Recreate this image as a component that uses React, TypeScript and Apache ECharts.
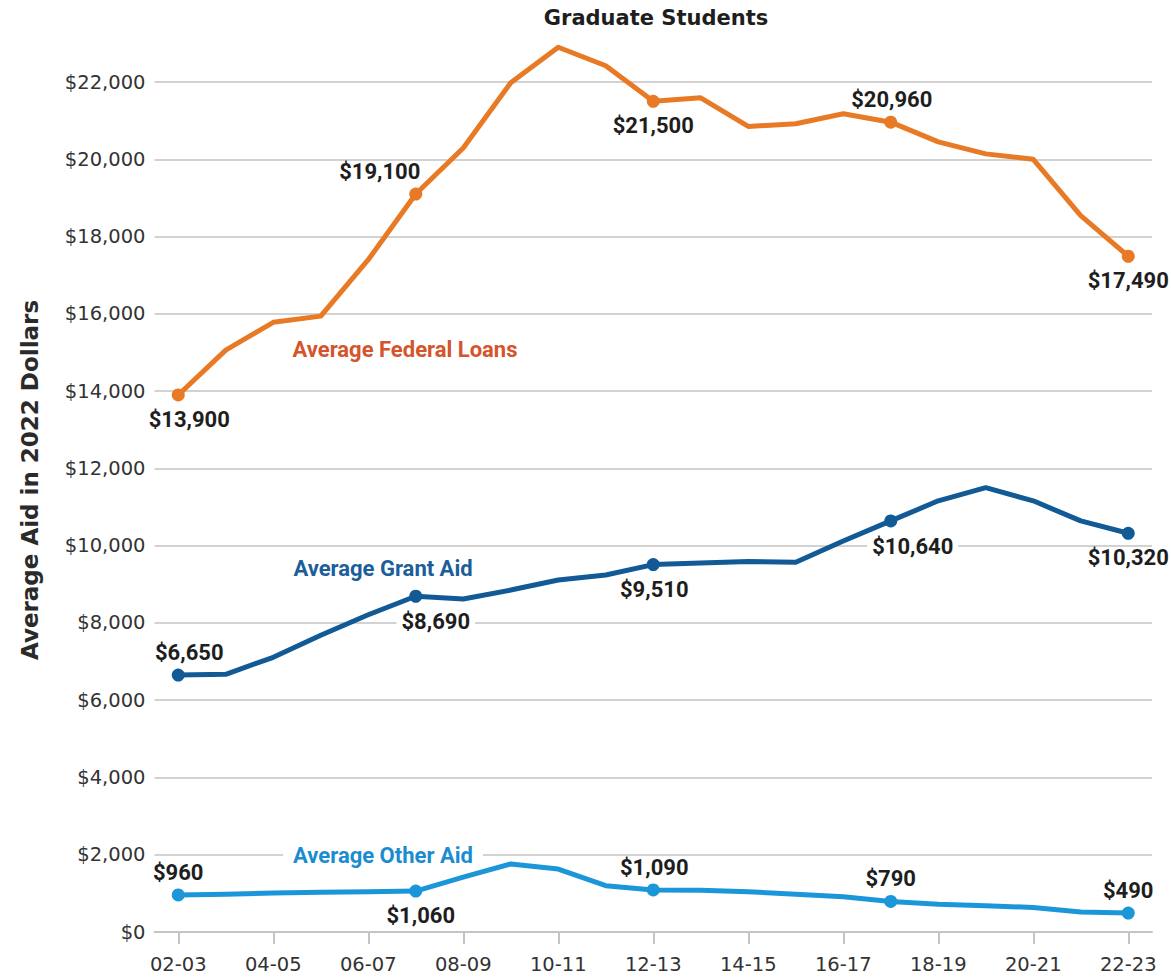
import React, { useEffect, useRef } from "react";
import * as echarts from "echarts";

const categories = [
  "02-03", "03-04", "04-05", "05-06", "06-07", "07-08", "08-09", "09-10", "10-11", "11-12",
  "12-13", "13-14", "14-15", "15-16", "16-17", "17-18", "18-19", "19-20", "20-21", "21-22", "22-23",
];

const federalLoans = [
  13900, 15060, 15780, 15940, 17400, 19100, 20290, 21980, 22900, 22420,
  21500, 21590, 20850, 20920, 21180, 20960, 20450, 20140, 20000, 18540, 17490,
];

const grantAid = [
  6650, 6670, 7110, 7680, 8210, 8690, 8620, 8850, 9110, 9240,
  9510, 9550, 9590, 9570, 10120, 10640, 11160, 11500, 11160, 10640, 10320,
];

const otherAid = [
  960, 980, 1010, 1030, 1040, 1060, 1420, 1760, 1630, 1200,
  1090, 1080, 1040, 980, 910, 790, 720, 680, 635, 520, 490,
];

const yTicks = { min: 0, max: 22000, interval: 2000 };

const markedIndices = [0, 5, 10, 15, 20];

type LabelCfg = { pos: "top" | "bottom"; dx: number; bg?: boolean };
const federalLabels: Record<number, LabelCfg> = {
  0: { pos: "bottom", dx: 11 },
  5: { pos: "top", dx: -36 },
  10: { pos: "bottom", dx: 0 },
  15: { pos: "top", dx: 1 },
  20: { pos: "bottom", dx: 0 },
};
const grantLabels: Record<number, LabelCfg> = {
  0: { pos: "top", dx: 11 },
  5: { pos: "bottom", dx: 20, bg: true },
  10: { pos: "bottom", dx: 1 },
  15: { pos: "bottom", dx: 22, bg: true },
  20: { pos: "bottom", dx: 0 },
};
const otherLabels: Record<number, LabelCfg> = {
  0: { pos: "top", dx: 0 },
  5: { pos: "bottom", dx: 5 },
  10: { pos: "top", dx: 1 },
  15: { pos: "top", dx: 0 },
  20: { pos: "top", dx: 0 },
};

const COLORS = {
  federal: "#E87A25",
  federalText: "#D5542B",
  grant: "#125A95",
  grantText: "#1B5E9A",
  other: "#1B97D9",
  otherText: "#1A8CD0",
  grid: "#D2D2D2",
  axis: "#C4C4C4",
  axisText: "#333333",
  label: "#1E1E1E",
};

const fmt = (v: number) => "$" + v.toLocaleString("en-US");

function buildSeries(name: string, values: number[], color: string, labels: Record<number, LabelCfg>) {
  return {
    type: "line",
    name,
    clip: false,
    showSymbol: true,
    showAllSymbol: true,
    symbolSize: 13,
    lineStyle: { color, width: 5, join: "round" },
    itemStyle: { color },
    emphasis: { disabled: true },
    label: {
      show: false,
      fontFamily: "Roboto",
      fontWeight: "bold",
      fontSize: 22,
      color: COLORS.label,
      formatter: (p: any) => fmt(p.value),
    },
    data: values.map((v, i) => {
      const marked = markedIndices.includes(i);
      const cfg = labels[i];
      return {
        value: v,
        symbol: marked ? "circle" : "none",
        label: cfg
          ? {
              show: true,
              position: cfg.pos,
              distance: cfg.pos === "bottom" ? 7 : 5,
              offset: [cfg.dx, 0],
              backgroundColor: cfg.bg ? "#ffffff" : "transparent",
              padding: cfg.bg ? [1, 5] : 0,
            }
          : { show: false },
      };
    }),
  };
}

export default function App() {
  const ref = useRef<HTMLDivElement>(null);

  useEffect(() => {
    if (!ref.current) return;
    const chart = echarts.init(ref.current, null, { renderer: "svg" });
    chart.setOption({
      animation: false,
      backgroundColor: "#ffffff",
      grid: { left: 154.5, right: 19, top: 82, bottom: 46, containLabel: false },
      xAxis: {
        type: "category",
        data: categories,
        boundaryGap: true,
        axisLine: { show: true, lineStyle: { color: COLORS.axis, width: 2 } },
        axisTick: { show: true, alignWithLabel: true, interval: 1, length: 12, lineStyle: { color: COLORS.axis, width: 2 } },
        axisLabel: {
          interval: 1,
          margin: 22,
          color: COLORS.axisText,
          fontFamily: "DejaVu Sans",
          fontSize: 19.5,
        },
        splitLine: { show: false },
      },
      yAxis: {
        type: "value",
        min: yTicks.min,
        max: yTicks.max,
        interval: yTicks.interval,
        axisLine: { show: false },
        axisTick: { show: false },
        axisLabel: {
          margin: 9,
          color: COLORS.axisText,
          fontFamily: "DejaVu Sans",
          fontSize: 19.5,
          formatter: (v: number) => fmt(v),
        },
        splitLine: { show: true, lineStyle: { color: COLORS.grid, width: 2 } },
      },
      graphic: [
        {
          type: "text",
          x: 656,
          y: 18,
          z: 10,
          style: {
            text: "Graduate Students",
            fill: "#1E1E1E",
            font: "bold 21px 'DejaVu Sans'",
            textAlign: "center",
            textVerticalAlign: "middle",
          },
        },
        {
          type: "text",
          x: 30,
          y: 480,
          rotation: Math.PI / 2,
          z: 10,
          style: {
            text: "Average Aid in 2022 Dollars",
            fill: "#2A2A2A",
            font: "bold 23px 'DejaVu Sans'",
            textAlign: "center",
            textVerticalAlign: "middle",
          },
        },
        {
          type: "text",
          x: 405,
          y: 349,
          z: 10,
          style: {
            text: "Average Federal Loans",
            fill: COLORS.federalText,
            font: "bold 22px Roboto",
            textAlign: "center",
            textVerticalAlign: "middle",
          },
        },
        {
          type: "text",
          x: 383,
          y: 568,
          z: 10,
          style: {
            text: "Average Grant Aid",
            fill: COLORS.grantText,
            font: "bold 22px Roboto",
            textAlign: "center",
            textVerticalAlign: "middle",
          },
        },
        {
          type: "text",
          x: 383,
          y: 855,
          z: 10,
          style: {
            text: "Average Other Aid",
            fill: COLORS.otherText,
            font: "bold 22px Roboto",
            textAlign: "center",
            textVerticalAlign: "middle",
            backgroundColor: "#ffffff",
            padding: [2, 10],
          },
        },
      ],
      series: [
        buildSeries("Average Federal Loans", federalLoans, COLORS.federal, federalLabels),
        buildSeries("Average Grant Aid", grantAid, COLORS.grant, grantLabels),
        buildSeries("Average Other Aid", otherAid, COLORS.other, otherLabels),
      ],
    });
    return () => chart.dispose();
  }, []);

  return (
    <div
      ref={ref}
      style={{ position: "fixed", left: 0, top: 0, width: 1171, height: 978, background: "#fff" }}
    />
  );
}
